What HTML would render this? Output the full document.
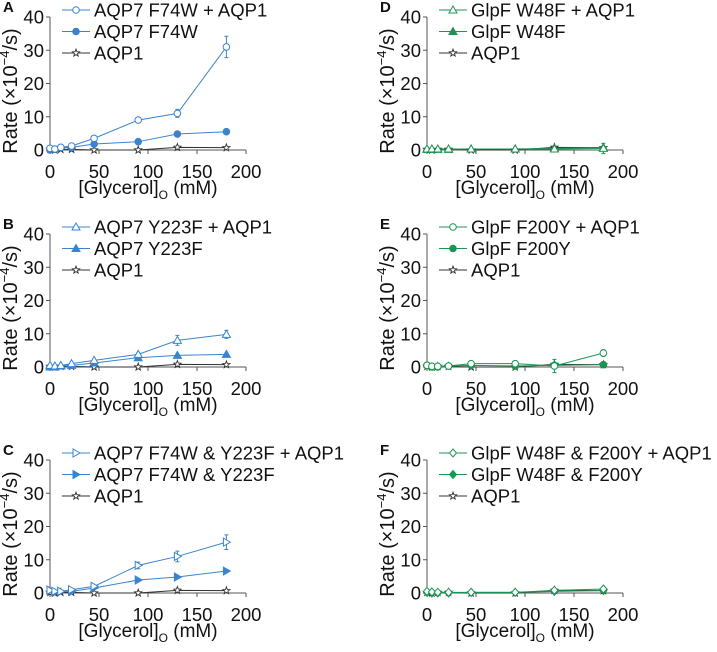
<!DOCTYPE html>
<html><head><meta charset="utf-8"><style>
body{margin:0;background:#fff;}
svg text{font-family:"Liberation Sans",Arial,sans-serif;fill:#111;}
</style></head><body>
<svg id="fig" width="717" height="647"></svg>
<script>
const xVals=[0,5,11,22,45,90,130,180];
const aqp1=[0.2,0,0.2,0.2,0,0,0.8,0.7];
const aOpen=[0.5,0.3,0.8,1.2,3.5,9,11,31];
const aFill=[0,0.2,0.7,0.8,1.8,2.5,4.8,5.5];
const bOpen=[0.5,0.3,0.5,1,2,3.8,8,9.8];
const bFill=[0,0,0.3,0.5,1.2,2.8,3.5,3.8];
const cOpen=[0.8,0.5,0.5,1,2,8.3,11,15.3];
const cFill=[0.9,0.3,0.5,0.5,1.5,3.9,4.8,6.6];
const dOpen=[0.3,0.3,0.3,0.3,0.3,0.3,0.3,0.5];
const dFill=[0.2,0.2,0.2,0.2,0.3,0.3,0.5,0.8];
const eOpen=[0.5,0.2,0.2,0.3,1,1,0.3,4.2];
const eFill=[0.5,0,0,0.3,0.5,0.3,0.5,0.7];
const fOpen=[0.5,0.3,0.2,0.2,0.2,0.2,0.8,1.2];
const fFill=[0.2,0,0,0,0.2,0.2,0.5,0.7];
const yTicks=[0,10,20,30,40];
const xTicks=[0,50,100,150,200];
const aErr=[0,0,0,0,0.3,0.4,1.2,3.2];
const blue="#3a84cf",green="#1b9552",dark="#333";
const panels=[
 {id:"A",x0:50,y0:150,open:aOpen,fill:aFill,err:aErr,c:blue,m:"circle",names:["AQP7 F74W + AQP1","AQP7 F74W","AQP1"]},
 {id:"B",x0:50,y0:367,open:bOpen,fill:bFill,err:[0,0,0,0,0.3,0.5,1.5,1.2],c:blue,m:"tri",names:["AQP7 Y223F + AQP1","AQP7 Y223F","AQP1"]},
 {id:"C",x0:50,y0:593,open:cOpen,fill:cFill,err:[0,0,0,0,0.3,1,1.6,2.2],c:blue,m:"rtri",names:["AQP7 F74W & Y223F + AQP1","AQP7 F74W & Y223F","AQP1"]},
 {id:"D",x0:427,y0:150,open:dOpen,fill:dFill,err:[0,0,0,0,0,0,0.5,1.5],c:green,m:"tri",names:["GlpF W48F + AQP1","GlpF W48F","AQP1"]},
 {id:"E",x0:427,y0:367,open:eOpen,fill:eFill,err:[0,0,0,0,0.3,0.3,2,1],c:green,m:"circle",names:["GlpF F200Y + AQP1","GlpF F200Y","AQP1"]},
 {id:"F",x0:427,y0:593,open:fOpen,fill:fFill,err:[0,0,0,0,0,0,0.3,0.3],c:green,m:"diamond",names:["GlpF W48F & F200Y + AQP1","GlpF W48F & F200Y","AQP1"]}
];
const NS="http://www.w3.org/2000/svg";
const svg=document.getElementById("fig");
function mk(t,a,p){const e=document.createElementNS(NS,t);for(const k in a)e.setAttribute(k,a[k]);(p||svg).appendChild(e);return e;}
function marker(g,type,x,y,col,filled){
 const f=filled?col:"#fff";let e;
 if(type==="circle")e=mk("circle",{cx:x,cy:y,r:3.3,fill:f,stroke:col,"stroke-width":1},g);
 else if(type==="tri")e=mk("polygon",{points:`${x},${y-4} ${x-4},${y+3} ${x+4},${y+3}`,fill:f,stroke:col,"stroke-width":1},g);
 else if(type==="rtri")e=mk("polygon",{points:`${x+4},${y} ${x-3},${y-4} ${x-3},${y+4}`,fill:f,stroke:col,"stroke-width":1},g);
 else if(type==="diamond")e=mk("polygon",{points:`${x},${y-4} ${x+3.5},${y} ${x},${y+4} ${x-3.5},${y}`,fill:f,stroke:col,"stroke-width":1},g);
 else{let p=[];for(let i=0;i<10;i++){const r=i%2?1.6:3.8,a=-Math.PI/2+i*Math.PI/5;p.push((x+r*Math.cos(a)).toFixed(1)+","+(y+r*Math.sin(a)).toFixed(1));}
  e=mk("polygon",{points:p.join(" "),fill:"#fff",stroke:col,"stroke-width":0.9},g);}
 
 
}
panels.forEach(P=>{
 const g=mk("g",{});
 
 
 const sx=v=>P.x0+v*0.98, sy=v=>P.y0-v*133/40;
 const lb=mk("text",{x:P.x0-47,y:P.y0-138,"font-size":15,"font-weight":"bold"},g);lb.textContent=P.id;
 
 const ya=mk("line",{x1:P.x0,y1:sy(40),x2:P.x0,y2:P.y0,stroke:"#555","stroke-width":1},g);
 
 const xa=mk("line",{x1:P.x0,y1:P.y0,x2:sx(200),y2:P.y0,stroke:"#555","stroke-width":1},g);
 
 yTicks.forEach(t=>{mk("line",{x1:P.x0-4,y1:sy(t),x2:P.x0,y2:sy(t),stroke:"#555"},g);
  const tx=mk("text",{x:P.x0-6,y:sy(t)+6.5,"font-size":18.5,"text-anchor":"end"},g);tx.textContent=t;
  });
 xTicks.forEach(t=>{mk("line",{x1:sx(t),y1:P.y0,x2:sx(t),y2:P.y0+4,stroke:"#555"},g);
  const tx=mk("text",{x:sx(t),y:P.y0+28,"font-size":18.5,"text-anchor":"middle"},g);tx.textContent=t;
  });
 const yl=mk("text",{x:0,y:0,"font-size":20,"text-anchor":"middle",transform:`translate(${P.x0-33},${P.y0-59}) rotate(-90)`},g);
 yl.innerHTML='Rate (×10<tspan font-size="13" dy="-8">−4</tspan><tspan dy="8">/s)</tspan>';
 
 const xl=mk("text",{x:P.x0+98,y:P.y0+44,"font-size":19,"text-anchor":"middle"},g);
 xl.innerHTML='[Glycerol]<tspan font-size="12" dy="5">O</tspan><tspan dy="-5"> (mM)</tspan>';
 
 const series=[{v:aqp1,c:dark,m:"star",f:false,e:null},{v:P.fill,c:P.c,m:P.m,f:true,e:null},{v:P.open,c:P.c,m:P.m,f:false,e:P.err}];
 series.forEach(s=>{
  const pl=mk("polyline",{points:xVals.map((x,i)=>sx(x)+","+sy(s.v[i])).join(" "),fill:"none",stroke:s.c,"stroke-width":1},g);
  
  xVals.forEach((x,i)=>{
   if(s.e&&s.e[i]>0){const X=sx(x);mk("path",{d:`M${X},${sy(s.v[i]+s.e[i])}V${sy(s.v[i]-s.e[i])}M${X-2},${sy(s.v[i]+s.e[i])}h4M${X-2},${sy(s.v[i]-s.e[i])}h4`,stroke:s.c,fill:"none"},g);}
   marker(g,s.m,sx(x),sy(s.v[i]),s.c,s.f);});
 });
 const leg=[{c:P.c,m:P.m,f:false},{c:P.c,m:P.m,f:true},{c:dark,m:"star",f:false}];
 leg.forEach((L,i)=>{const ly=P.y0-140+i*21.5;
  const lg=mk("g",{},g);
  mk("line",{x1:P.x0+12,y1:ly,x2:P.x0+40,y2:ly,stroke:L.c},lg);
  marker(lg,L.m,P.x0+26,ly,L.c,L.f);
  const t=mk("text",{x:P.x0+44,y:ly+6.5,"font-size":18.5},lg);t.textContent=P.names[i];});
});
</script>
</body></html>
